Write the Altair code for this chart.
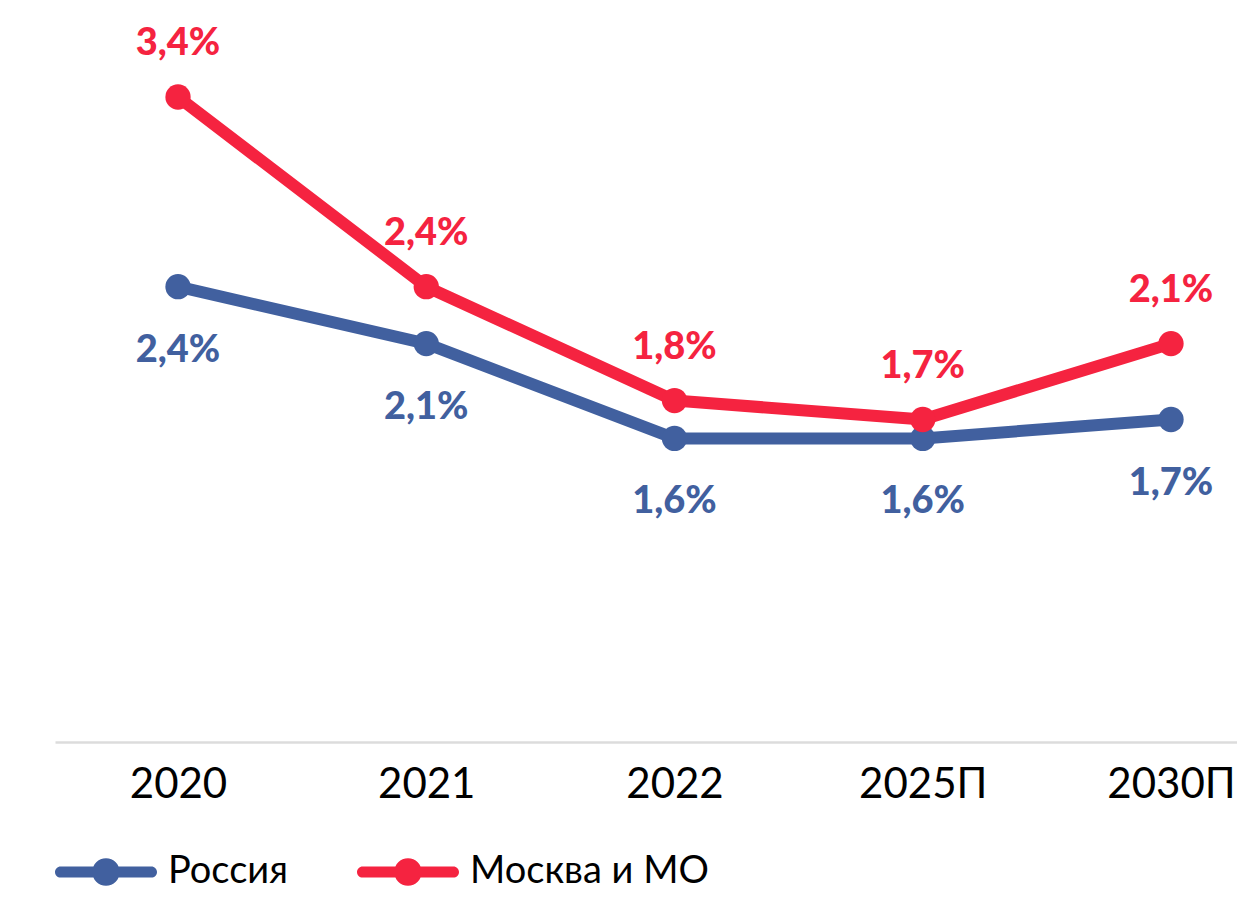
import altair as alt
import pandas as pd

years = ["2020", "2021", "2022", "2025П", "2030П"]
russia = [2.4, 2.1, 1.6, 1.6, 1.7]
moscow = [3.4, 2.4, 1.8, 1.7, 2.1]
series_names = ["Россия", "Москва и МО"]
colors = ["#41609f", "#f52340"]

def fmt(v):
    return f"{v:.1f}".replace(".", ",") + "%"

rows = []
for y, r, m in zip(years, russia, moscow):
    rows.append({"year": y, "series": series_names[0], "value": r, "label": fmt(r)})
    rows.append({"year": y, "series": series_names[1], "value": m, "label": fmt(m)})
df = pd.DataFrame(rows)

FONT = "Lato"
legend_path = ("M-0.89,-0.11 L0.89,-0.11 A0.11,0.11 0 0,1 0.89,0.11 L-0.89,0.11 "
               "A0.11,0.11 0 0,1 -0.89,-0.11 Z M-0.27,0 A0.27,0.27 0 1,1 0.27,0 "
               "A0.27,0.27 0 1,1 -0.27,0 Z")

legend = alt.Legend(
    title=None, orient="none", legendX=0, legendY=724, direction="horizontal",
    symbolType=legend_path, symbolSize=10404, symbolOpacity=1, symbolStrokeWidth=0,
    labelFont=FONT, labelFontSize=38, labelColor="#000000", labelOffset=11,
    columnPadding=68, padding=0, labelLimit=0,
)

x_enc = alt.X(
    "year:O", sort=years, title=None,
    scale=alt.Scale(type="point", padding=0.3807, align=0.6508),
    axis=alt.Axis(domain=False, ticks=False, labelAngle=0, labelFont=FONT,
                  labelFontSize=42, labelColor="#000000", labelPadding=22),
)
y_enc = alt.Y(
    "value:Q", title=None, scale=alt.Scale(domain=[0, 3.4], nice=False, zero=True),
    axis=alt.Axis(values=[0], grid=True, gridColor="#dcdcdc", gridWidth=2.5,
                  labels=False, ticks=False, domain=False),
)
color_enc = alt.Color("series:N", scale=alt.Scale(domain=series_names, range=colors),
                      sort=series_names, legend=legend)

base = alt.Chart(df)
lines = base.mark_line(strokeWidth=12, strokeJoin="round", strokeCap="round").encode(
    x=x_enc, y=y_enc, color=color_enc, detail="series:N")
points = base.mark_circle(size=640, opacity=1).encode(x=x_enc, y=y_enc, color=color_enc)

text_red = base.transform_filter(alt.datum.series == series_names[1]).mark_text(
    font=FONT, fontSize=38, fontWeight=900, baseline="alphabetic", dy=-42,
    color=colors[1]).encode(x=x_enc, y=y_enc, text="label:N")
text_blue = base.transform_filter(alt.datum.series == series_names[0]).mark_text(
    font=FONT, fontSize=38, fontWeight=900, baseline="alphabetic", dy=75,
    color=colors[0]).encode(x=x_enc, y=y_enc, text="label:N")

chart = alt.layer(lines, points, text_red, text_blue).properties(
    width=1182, height=645,
    background="white",
    autosize=alt.AutoSizeParams(type="none"),
    padding={"left": 47, "top": 89, "right": 0, "bottom": 154},
).configure_view(stroke=None)

chart.save("out.html", embed_options={"renderer": "svg", "actions": False})
